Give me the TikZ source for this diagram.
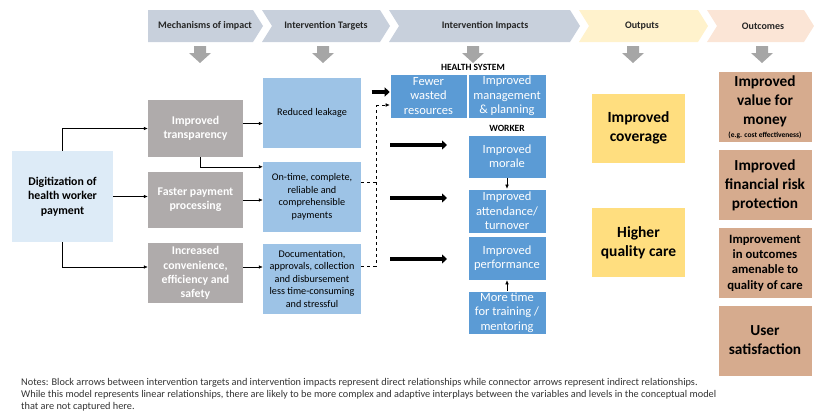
\documentclass[tikz,border=0pt]{standalone}
\usepackage{fontspec}
\setmainfont{Carlito}
\usepackage{tikz}
\usetikzlibrary{arrows.meta,positioning}

\definecolor{headblue}{RGB}{200,208,220}
\definecolor{headyellow}{RGB}{255,242,204}
\definecolor{headpeach}{RGB}{251,229,214}
\definecolor{downgray}{RGB}{166,166,166}
\definecolor{paleblue}{RGB}{221,235,247}
\definecolor{mechgray}{RGB}{175,171,171}
\definecolor{targetblue}{RGB}{157,195,230}
\definecolor{impactblue}{RGB}{91,155,213}
\definecolor{outyellow}{RGB}{255,222,127}
\definecolor{outtan}{RGB}{214,171,142}

\begin{document}
\begin{tikzpicture}[x=1pt,y=-1pt,
    headlabel/.style={font=\bfseries\fontsize{10}{12}\selectfont, text=black!85},
    mechbox/.style={fill=mechgray, text=white, align=center, minimum width=95pt,
        font=\bfseries\fontsize{11.8}{14.3}\selectfont, inner sep=1pt},
    targetbox/.style={fill=targetblue, align=center, minimum width=98pt, minimum height=70pt,
        font=\fontsize{10.2}{12.5}\selectfont, inner sep=1pt},
    impactbox/.style={fill=impactblue, draw=white, line width=0.6pt, text=white, align=center,
        minimum width=78pt, minimum height=44pt, font=\fontsize{12.5}{14.3}\selectfont, inner sep=1pt},
    outputbox/.style={fill=outyellow, align=center, minimum width=93pt, minimum height=69pt,
        font=\bfseries\fontsize{15.5}{19}\selectfont},
    outcomebox/.style={fill=outtan, align=center, minimum width=93pt, minimum height=70pt,
        font=\bfseries\fontsize{15.3}{19}\selectfont, inner sep=1pt},
    grouplabel/.style={font=\bfseries\fontsize{9.5}{11}\selectfont},
    flow/.style={-{Latex[length=4pt,width=3.5pt]}, line width=0.5pt},
    blockarrow/.style={-{Triangle[length=5pt,width=9pt]}, line width=3.2pt}]
    \useasboundingbox (0,0) rectangle (814,415);

    % Header chevrons
    \fill[headblue] (148,10) -- (253,10) -- (263,26) -- (253,42) -- (148,42) -- cycle;
    \fill[headblue] (262,10) -- (380,10) -- (390,26) -- (380,42) -- (262,42) -- (272,26) -- cycle;
    \fill[headblue] (389,10) -- (570,10) -- (580,26) -- (570,42) -- (389,42) -- (399,26) -- cycle;
    \fill[headyellow] (579,10) -- (698,10) -- (708,26) -- (698,42) -- (579,42) -- (589,26) -- cycle;
    \fill[headpeach] (707,10) -- (804,10) -- (814,26) -- (804,42) -- (707,42) -- (717,26) -- cycle;
    \node[headlabel] (hmech) at (205,26) {Mechanisms of impact};
    \node[headlabel] (htarget) at (326,26) {Intervention Targets};
    \node[headlabel] (himpact) at (485,26) {Intervention Impacts};
    \node[headlabel] (houtput) at (642,26) {Outputs};
    \node[headlabel] (houtcome) at (763,26) {Outcomes};

    % Gray down arrows
    \foreach \ax in {200,323,473,633,762}
        \fill[downgray] (\ax-6,46) -- (\ax+6,46) -- (\ax+6,53) -- (\ax+11,53)
            -- (\ax,63) -- (\ax-11,53) -- (\ax-6,53) -- cycle;

    % Start
    \node[fill=paleblue, align=center, minimum width=101pt, minimum height=91pt,
        font=\bfseries\fontsize{11.8}{14.3}\selectfont] (digit) at (62.5,196.5)
        {Digitization of\\health worker\\payment};

    % Mechanisms of impact
    \node[mechbox, minimum height=57pt] (transp) at (195.5,128.5) {Improved\\transparency};
    \node[mechbox, minimum height=56pt] (faster) at (195.5,200) {Faster payment\\processing};
    \node[mechbox, minimum height=60pt] (conv) at (195.5,273)
        {Increased\\convenience,\\efficiency and\\safety};

    % Intervention targets
    \node[targetbox] (leak) at (312,113) {Reduced leakage};
    \node[targetbox] (ontime) at (312,197) {On-time, complete,\\reliable and\\comprehensible\\payments};
    \node[targetbox] (doc) at (312,279)
        {Documentation,\\approvals, collection\\and disbursement\\less time-consuming\\and stressful};

    % Intervention impacts
    \node[grouplabel] (hslabel) at (473,67) {HEALTH SYSTEM};
    \node[impactbox, minimum width=77pt] (fewer) at (428.5,96) {Fewer\\wasted\\resources};
    \node[impactbox] (mgmt) at (507,96) {Improved\\management\\\& planning};
    \node[grouplabel] (wlabel) at (507,128) {WORKER};
    \node[impactbox, minimum height=43pt] (morale) at (507,156.5) {Improved\\morale};
    \node[impactbox] (attend) at (507,211) {Improved\\attendance/\\turnover};
    \node[impactbox] (perf) at (507,258) {Improved\\performance};
    \node[impactbox, minimum height=43pt] (train) at (507,312.5) {More time\\for training /\\mentoring};

    % Outputs
    \node[outputbox] (cover) at (638.5,128) {Improved\\coverage};
    \node[outputbox] (quality) at (638.5,242.5) {Higher\\quality care};

    % Outcomes
    \node[outcomebox] (value) at (765,107)
        {Improved\\value for\\money\\[-6pt]{\fontsize{7.5}{8}\selectfont (e.g. cost effectiveness)}};
    \node[outcomebox] (finrisk) at (765,185) {Improved\\financial risk\\protection};
    \node[outcomebox, font=\bfseries\fontsize{12.7}{15.3}\selectfont] (amenable) at (765,263)
        {Improvement\\in outcomes\\amenable to\\quality of care};
    \node[outcomebox] (usersat) at (765,340.5) {User\\satisfaction};

    % Connectors
    \draw[flow] (digit.north) |- (transp.west);
    \draw[flow] (digit.east) -- (digit.east -| faster.west);
    \draw[flow] (digit.south) |- ([yshift=6pt]conv.west);
    \draw[flow] ([yshift=5pt]transp.east) -- ([yshift=5pt]transp.east -| leak.west);
    \draw[flow] ([xshift=5pt]transp.south) |- ([yshift=-5pt]ontime.north west);
    \draw[flow] (faster.east) -- (faster.east -| ontime.west);
    \draw[flow] ([yshift=6pt]conv.east) -- ([yshift=6pt]conv.east -| doc.west);
    \draw[flow] (morale.south) -- (attend.north);
    \draw[flow] (train.north) -- (perf.south);

    % Indirect (dashed) connector
    \coordinate (djoin) at (376,105);
    \draw[dashed, line width=0.5pt] ([yshift=15pt]ontime.east) -| (djoin);
    \draw[dashed, line width=0.5pt] ([yshift=13pt]doc.east) -| (djoin);
    \draw[flow, dashed] (djoin) -- (djoin -| fewer.west);

    % Block arrows
    \draw[blockarrow] ([xshift=-18pt,yshift=4pt]fewer.west) -- ([yshift=4pt]fewer.west);
    \foreach \by [count=\i] in {145,198,259} {
        \coordinate (bs\i) at (390,\by);
        \coordinate (be\i) at (447,\by);
        \draw[blockarrow] (bs\i) -- (be\i);
    }

    % Notes
    \node[anchor=north west, align=left, inner sep=0pt, text=black!80,
        font=\fontsize{10.3}{12.3}\selectfont] (notes) at (21,378)
        {Notes: Block arrows between intervention targets and intervention  impacts represent direct relationships while connector  arrows represent indirect relationships.\\
        While this model represents linear relationships, there are likely to be more complex and adaptive interplays between the variables and levels in the conceptual model\\
        that are not captured here.};
\end{tikzpicture}
\end{document}
